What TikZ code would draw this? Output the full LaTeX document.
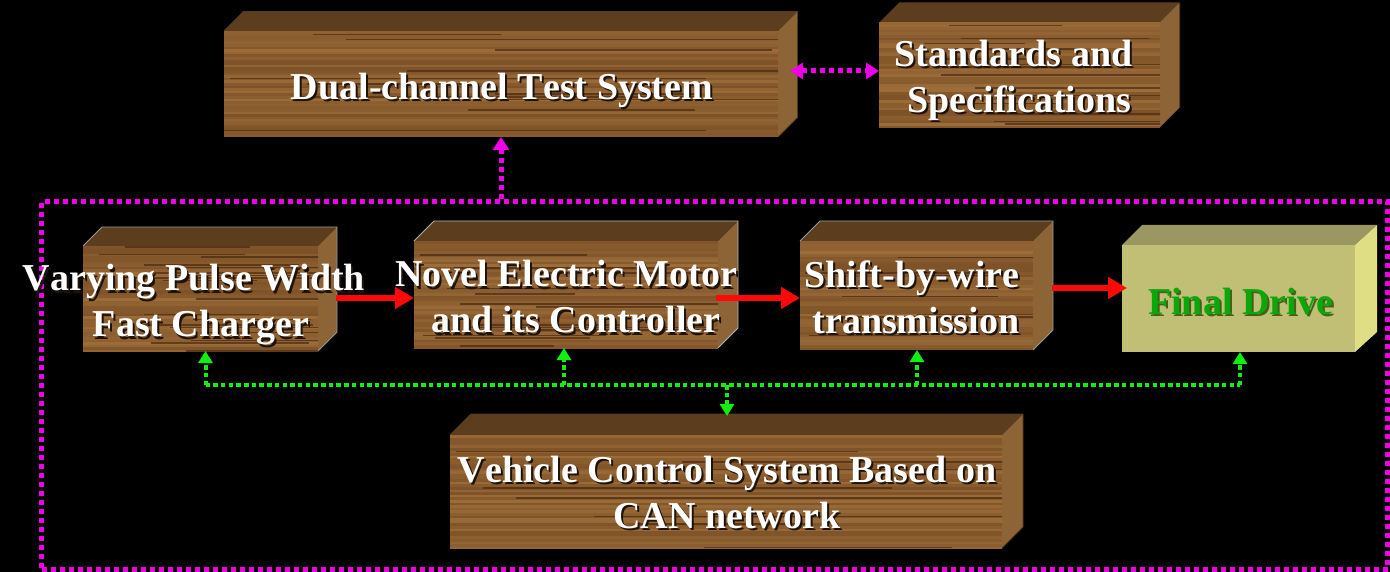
\documentclass[tikz,border=0pt]{standalone}
\usepackage{fontspec}
\setmainfont[Kerning=Off]{Liberation Serif}
\usetikzlibrary{arrows.meta}
\definecolor{woodA}{HTML}{6F4520}
\definecolor{woodB}{HTML}{A8773F}
\definecolor{woodDark}{HTML}{4A2A12}
\definecolor{woodTop}{HTML}{5C3E1F}
\definecolor{woodSide}{HTML}{8C6436}
\definecolor{olvFront}{HTML}{C1BE75}
\definecolor{olvTop}{HTML}{9A9761}
\definecolor{olvSide}{HTML}{E0DE84}
\definecolor{mag}{HTML}{F000E8}
\definecolor{grn}{HTML}{10F010}
\definecolor{rd}{HTML}{FF0808}
\definecolor{drv}{HTML}{0AA80A}
\definecolor{drvS}{HTML}{46601A}
\tikzset{
  facenode/.style={draw=none,inner sep=0pt,outer sep=0pt},
  lab/.style={font=\fontsize{38}{46}\selectfont\bfseries,align=center,inner sep=0pt,text=white},
  labs/.style={lab,text=black!85!brown},
  redarrow/.style={rd,line width=6pt,-{Triangle[length=19pt,width=21pt]}},
  magline/.style={mag,line width=5pt,dash pattern=on 5pt off 4pt},
  magarrow/.style={magline,-{Triangle[length=13pt,width=16pt]}},
  magboth/.style={magline,{Triangle[length=13pt,width=16pt]}-{Triangle[length=13pt,width=16pt]}},
  grnline/.style={grn,line width=4pt,dash pattern=on 4.5pt off 3.2pt},
  grnarrow/.style={grnline,-{Triangle[length=12pt,width=14pt]}},
}
% name, x0, y0, x1, y1, depth, edge colour
\newcommand{\woodblock}[7]{%
  \fill[woodTop] (#2,#3) -- ({#2+#6},{#3-#6}) -- ({#4+#6},{#3-#6}) -- (#4,#3) -- cycle;
  \fill[woodSide] (#4,#3) -- ({#4+#6},{#3-#6}) -- ({#4+#6},{#5-#6}) -- (#4,#5) -- cycle;
  \draw[#7,line width=.8pt] (#2,#3) -- ({#2+#6},{#3-#6}) -- ({#4+#6},{#3-#6}) -- ({#4+#6},{#5-#6}) -- (#4,#5);
  \begin{scope}
    \clip (#2,#3) rectangle (#4,#5);
    \fill[woodA] (#2,#3) rectangle (#4,#5);
    \pgfmathsetmacro{\ysec}{#3+2.6}
    \foreach \yy in {#3,\ysec,...,#5}{
      \pgfmathrandominteger{\rmix}{25}{80}
      \fill[woodB!\rmix!woodA] (#2,\yy) rectangle (#4,{\yy+2.7});
      \pgfmathrandominteger{\rdark}{0}{9}
      \ifnum\rdark<3
        \pgfmathrandominteger{\ra}{0}{50}
        \pgfmathrandominteger{\rb}{30}{100}
        \fill[woodDark,opacity=.7] ({#2+(#4-#2)/100*\ra},\yy) rectangle ({#2+(#4-#2)/100*(\ra+\rb)},{\yy+1.6});
      \fi
    }
  \end{scope}
  \node[facenode,minimum width={(#4-#2)*1pt},minimum height={(#5-#3)*1pt}] (#1) at ({(#2+#4)/2},{(#3+#5)/2}) {};
}
\newcommand{\boxlabel}[4]{%
  \node[labs] (#1s) at ({#2+2},{#3+2.5}) {#4};
  \node[lab] (#1t) at (#2,#3) {#4};
}
\begin{document}
\begin{tikzpicture}[x=1pt,y=-1pt]
\pgfmathsetseed{11}
\useasboundingbox (0,0) rectangle (1390,572);
\fill[black] (0,0) rectangle (1390,572);

\node[draw=mag,magline,inner sep=0pt,minimum width=1346pt,minimum height=367pt] (frame) at (714.5,385.5) {};

\woodblock{test}{224}{31}{778}{137}{19.5}{black!40!woodSide}
\woodblock{stand}{879}{22}{1160}{128}{20}{black}
\woodblock{charger}{83}{246}{318}{351}{19}{gray!80}
\woodblock{motor}{414}{241}{718}{348}{20}{gray!60}
\woodblock{shift}{800}{241}{1033}{350}{20}{gray!80}
\woodblock{vehicle}{450}{435}{1002}{548}{21}{black!40!woodSide}

% Final drive block
\fill[olvTop] (1122,245) -- (1142,225) -- (1377,225) -- (1355,245) -- cycle;
\fill[olvSide] (1355,245) -- (1377,225) -- (1377,332) -- (1355,352) -- cycle;
\node[facenode,fill=olvFront,minimum width=233pt,minimum height=107pt] (final) at (1238.5,298.5) {};

% connectors
\coordinate (bus) at (727,385);
\draw[magarrow] (frame.north -| test.south) -- (test.south);
\draw[magboth] ([shift={(12,-13)}]test.east) -- ([shift={(0,-4)}]stand.west);
\draw[redarrow] ([shift={(18,-0.5)}]charger.east) -- ([shift={(0,3.5)}]motor.west);
\draw[redarrow] ([shift={(-2,3.5)}]motor.east) -- ([shift={(0,2.5)}]shift.west);
\draw[redarrow] ([shift={(19,-7.5)}]shift.east) -- ([shift={(5,-10.5)}]final.west);
\draw[grnline] ([xshift=5pt]charger.south |- bus) -- ([xshift=1.5pt]final.south |- bus);
\draw[grnarrow] ([xshift=5pt]charger.south |- bus) -- ([xshift=5pt]charger.south);
\draw[grnarrow] (bus -| motor.south) ++(-2,0) -- ([xshift=-2pt]motor.south);
\draw[grnarrow] (bus -| shift.south) ++(0.5,0) -- ([xshift=.5pt]shift.south);
\draw[grnarrow] (bus -| final.south) ++(1.5,0) -- ([xshift=1.5pt]final.south);
\draw[grnarrow] (bus) -- ([shift={(0,-19)}]bus |- vehicle.north);

% labels
\boxlabel{a}{502}{90}{Dual-channel Test System}
\boxlabel{b}{1013.5}{80}{Standards and\\\hspace*{12pt}Specifications}
\boxlabel{c}{194}{305}{Varying Pulse Width\\\hspace*{14pt}Fast Charger}
\boxlabel{d}{566}{297}{Novel Electric Motor\\\hspace*{20pt}and its Controller}
\boxlabel{e}{912}{297}{Shift-by-wire\\\hspace*{8pt}transmission}
\boxlabel{f}{727}{492}{Vehicle Control System Based on\\CAN network}
\node[lab,text=drvS] (gs) at (1242.5,304) {Final Drive};
\node[lab,text=drv] (gt) at (1240.5,301.5) {Final Drive};
\end{tikzpicture}
\end{document}
